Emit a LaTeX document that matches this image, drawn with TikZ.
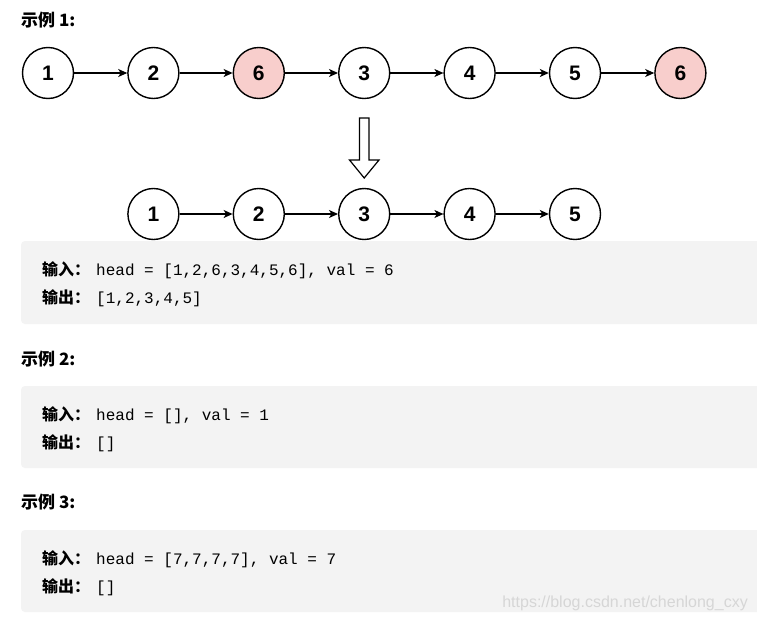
\documentclass[tikz,border=0pt]{standalone}
\usepackage{fontspec}
\setmainfont{Liberation Sans}
\newfontfamily\cjk{Noto Sans CJK SC}
\newfontfamily\mono{Liberation Mono}
\usetikzlibrary{arrows.meta}
\definecolor{pinkc}{HTML}{F8CECC}
\definecolor{boxc}{HTML}{F3F3F3}
\definecolor{wmc}{HTML}{D6D6D6}
\tikzset{
  lnode/.style={circle, draw=black, fill=white, line width=1.4pt, minimum size=51pt, inner sep=0pt,
    font=\bfseries\fontsize{21}{21}\selectfont},
  hl/.style={fill=pinkc},
  link/.style={-{Stealth[length=9pt,width=8pt,inset=2.5pt]}, line width=1.3pt},
  codebox/.style={fill=boxc, rounded corners=4pt},
  codeline/.style={anchor=base west, inner sep=0pt, font=\fontsize{16}{16}\selectfont},
  heading/.style={anchor=base west, inner sep=0pt, font=\cjk\bfseries\fontsize{17}{17}\selectfont},
}
\newcommand{\lblin}{{\cjk\bfseries 输入：}\hspace{6pt}}
\newcommand{\lblout}{{\cjk\bfseries 输出：}\hspace{6pt}}
\begin{document}
\begin{tikzpicture}[x=1pt,y=-1pt]
\useasboundingbox (0,0) rectangle (757,621);
\fill[white] (0,0) rectangle (757,621);

% headings
\node[heading] (h1) at (21,26) {示例 1:};
\node[heading] (h2) at (21,365) {示例 2:};
\node[heading] (h3) at (21,508) {示例 3:};

% top list
\node[lnode] (a1) at (48,73) {1};
\node[lnode] (a2) at (153.4,73) {2};
\node[lnode,hl] (a3) at (258.8,73) {6};
\node[lnode] (a4) at (364.2,73) {3};
\node[lnode] (a5) at (469.6,73) {4};
\node[lnode] (a6) at (575,73) {5};
\node[lnode,hl] (a7) at (680.4,73) {6};
\foreach \i/\j in {a1/a2,a2/a3,a3/a4,a4/a5,a5/a6,a6/a7} \draw[link] (\i) -- (\j);

% big arrow
\draw[line width=1.2pt, fill=white, line join=miter] (359.5,118) -- (369,118) -- (369,160) -- (379,160) -- (364.2,178) -- (349.5,160) -- (359.5,160) -- cycle;

% bottom list
\node[lnode] (b1) at (153.4,214) {1};
\node[lnode] (b2) at (258.8,214) {2};
\node[lnode] (b3) at (364.2,214) {3};
\node[lnode] (b4) at (469.6,214) {4};
\node[lnode] (b5) at (575,214) {5};
\foreach \i/\j in {b1/b2,b2/b3,b3/b4,b4/b5} \draw[link] (\i) -- (\j);

% code boxes
\fill[codebox] (21,241) rectangle (765,324);
\fill[codebox] (21,386) rectangle (765,468);
\fill[codebox] (21,530) rectangle (765,612);

\node[codeline] (i1) at (42,275) {\lblin{\mono head = [1,2,6,3,4,5,6], val = 6}};
\node[codeline] (o1) at (42,303) {\lblout{\mono [1,2,3,4,5]}};
\node[codeline] (i2) at (42,420) {\lblin{\mono head = [], val = 1}};
\node[codeline] (o2) at (42,448) {\lblout{\mono []}};
\node[codeline] (i3) at (42,564) {\lblin{\mono head = [7,7,7,7], val = 7}};
\node[codeline] (o3) at (42,592) {\lblout{\mono []}};

% watermark
\node[anchor=base east, inner sep=0pt, text=wmc, font=\fontsize{16}{16}\selectfont] (wm) at (748,607) {https://blog.csdn.net/chenlong\_cxy};
\end{tikzpicture}
\end{document}
